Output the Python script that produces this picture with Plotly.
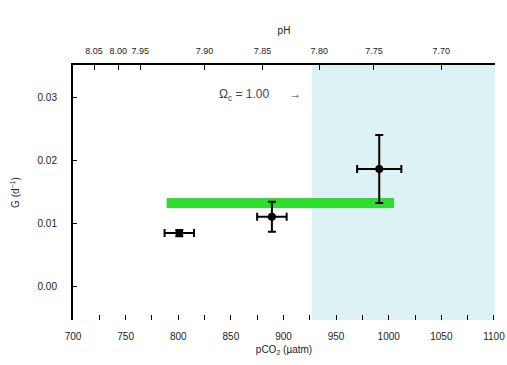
import plotly.graph_objects as go

# data
pco2 = [801, 889, 991]
pco2_err = [14, 14, 21]
g_rate = [0.0084, 0.0110, 0.0186]
g_err = [0.0005, 0.0024, 0.0054]
mean_x = [789, 1005]
mean_y = [0.0132, 0.0132]
omega_threshold = 927
x_ticks = [700, 750, 800, 850, 900, 950, 1000, 1050, 1100]
y_ticks = [0.00, 0.01, 0.02, 0.03]
ph_labels = ["8.05", "8.00", "7.95", "7.90", "7.85", "7.80", "7.75", "7.70"]
ph_pos = [720, 743, 764, 825, 880, 934, 986, 1050]

font = dict(family="Liberation Sans, Arial", size=10, color="#222")
xr = [700, 1101]
yr = [-0.0054, 0.0351]

fig = go.Figure()
fig.add_shape(type="rect", xref="x", yref="paper", x0=omega_threshold, x1=xr[1],
              y0=0, y1=1, fillcolor="#dcf2f5", line_width=0, layer="below")
fig.add_trace(go.Scatter(x=mean_x, y=mean_y, mode="lines",
                         line=dict(color="#2fdc2f", width=10), showlegend=False))
fig.add_trace(go.Scatter(x=pco2, y=g_rate, mode="markers",
                         marker=dict(color="black", size=8),
                         error_x=dict(type="data", array=pco2_err, color="black", thickness=2, width=4),
                         error_y=dict(type="data", array=g_err, color="black", thickness=2, width=4),
                         showlegend=False))
fig.add_trace(go.Scatter(x=[ph_pos[0]], y=[None], xaxis="x2", showlegend=False))

fig.add_annotation(x=878, y=0.0303, xref="x", yref="y",
                   text="Ω<sub>c</sub> = 1.00      →", showarrow=False,
                   font=dict(family="Liberation Sans, Arial", size=12, color="#3a4a4a"))

fig.update_layout(
    width=507, height=365, margin=dict(l=73, r=12, t=65, b=45, autoexpand=False),
    plot_bgcolor="white", paper_bgcolor="white", font=font,
    xaxis=dict(range=xr, tickvals=x_ticks, ticks="inside", ticklen=5, tickcolor="black",
               minor=dict(dtick=25, tick0=700, ticks="inside", ticklen=5, tickcolor="black"),
               showline=False, showgrid=False, zeroline=False, automargin=False,
               ticklabelstandoff=9,
               title=dict(text="pCO<sub>2</sub> (µatm)", font=font, standoff=4)),
    xaxis2=dict(range=xr, overlaying="x", side="top", tickvals=ph_pos, ticktext=ph_labels,
                tickangle=0, tickfont=dict(size=9),
                ticks="inside", ticklen=5, tickcolor="black", showline=True, linecolor="black",
                linewidth=2, showgrid=False, zeroline=False, automargin=False,
                ticklabelstandoff=5,
                title=dict(text="pH", font=font, standoff=10)),
    yaxis=dict(range=yr, tickvals=y_ticks, tickformat=".2f", ticks="inside", ticklen=4,
               tickcolor="black", showline=True, linecolor="black", linewidth=2,
               showgrid=False, zeroline=False, automargin=False, ticklabelstandoff=12,
               title=dict(text="G (d<sup>−1</sup>)", font=font, standoff=16)),
)
fig.write_html("out.html")
